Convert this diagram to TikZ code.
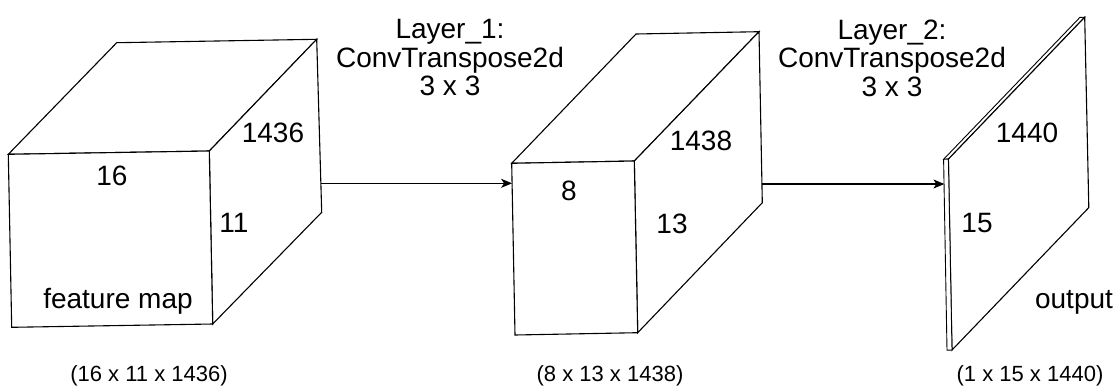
\documentclass[tikz,border=0pt]{standalone}
\usepackage{fontspec}
\setmainfont{Liberation Sans}
\usetikzlibrary{arrows.meta}
\tikzset{
  face/.style={draw=black, fill=white, line width=1.1pt, line join=miter},
  lbl/.style={inner sep=0pt, anchor=base, font=\fontsize{28}{30}\selectfont},
  dimlbl/.style={inner sep=0pt, anchor=base, font=\fontsize{22}{24}\selectfont},
  layerlbl/.style={inner sep=0pt, align=center, font=\fontsize{28}{28.5}\selectfont},
  conn/.style={draw=black, line width=1.1pt, -{Stealth[length=11pt,width=9pt,inset=3pt]}}
}
\begin{document}
\begin{tikzpicture}[x=1pt,y=-1pt]
\useasboundingbox (0,0) rectangle (1120,389);
% ---------- cube 1 ----------
\coordinate (c1ftl) at (8.3,154.3);
\coordinate (c1ftr) at (209.3,151);
\coordinate (c1fbr) at (212.7,324);
\coordinate (c1fbl) at (11.7,327.3);
\coordinate (c1btl) at (116.7,42.7);
\coordinate (c1btr) at (316.7,39.3);
\coordinate (c1bbr) at (321.7,212.3);
\draw[face] (c1ftl) -- (c1btl) -- (c1btr) -- (c1ftr) -- cycle;
\draw[face] (c1ftr) -- (c1btr) -- (c1bbr) -- (c1fbr) -- cycle;
\draw[face] (c1ftl) -- (c1ftr) -- (c1fbr) -- (c1fbl) -- cycle;
% ---------- cube 2 ----------
\coordinate (c2ftl) at (511.7,163.3);
\coordinate (c2ftr) at (634.3,161);
\coordinate (c2fbr) at (637.7,332.7);
\coordinate (c2fbl) at (515,335);
\coordinate (c2btl) at (636,34);
\coordinate (c2btr) at (759,31.7);
\coordinate (c2bbr) at (762.3,202.7);
\draw[face] (c2ftl) -- (c2btl) -- (c2btr) -- (c2ftr) -- cycle;
\draw[face] (c2ftr) -- (c2btr) -- (c2bbr) -- (c2fbr) -- cycle;
\draw[face] (c2ftl) -- (c2ftr) -- (c2fbr) -- (c2fbl) -- cycle;
% ---------- plate ----------
\coordinate (pftl) at (943.6,159.3);
\coordinate (pftr) at (948.4,159.1);
\coordinate (pfbr) at (952,350);
\coordinate (pfbl) at (947,350.2);
\coordinate (pbtl) at (1079.9,17.4);
\coordinate (pbtr) at (1084.7,17.2);
\coordinate (pbbr) at (1088.8,207.6);
\draw[face, line width=0.9pt] (pftl) -- (pbtl) -- (pbtr) -- (pftr) -- cycle;
\draw[face] (pftr) -- (pbtr) -- (pbbr) -- (pfbr) -- cycle;
\draw[face, line width=0.9pt] (pftl) -- (pftr) -- (pfbr) -- (pfbl) -- cycle;
% ---------- connectors ----------
\coordinate (a1s) at (320.9,183.3);
\coordinate (a1e) at (512.1,183.3);
\coordinate (a2s) at (761.9,184);
\coordinate (a2e) at (944.4,184);
\draw[conn] (a1s) -- (a1e);
\draw[conn] (a2s) -- (a2e);
% ---------- labels ----------
\node[lbl] (l16) at (112,185) {16};
\node[lbl] (l1436) at (273,142) {1436};
\node[lbl] (l11) at (234,232) {11};
\node[lbl] (lfm) at (118,308) {feature map};
\node[lbl] (l8) at (569,200) {8};
\node[lbl] (l1438) at (701,150) {1438};
\node[lbl] (l13) at (672,233) {13};
\node[lbl] (l1440) at (1027,142) {1440};
\node[lbl] (l15) at (977,232) {15};
\node[lbl] (lout) at (1074,308) {output};
\node[layerlbl] (layer1) at (450,58) {Layer\_1:\\ConvTranspose2d\\3 x 3};
\node[layerlbl] (layer2) at (892,58) {Layer\_2:\\ConvTranspose2d\\3 x 3};
\node[dimlbl] (d1) at (149,381) {(16 x 11 x 1436)};
\node[dimlbl] (d2) at (610,381) {(8 x 13 x 1438)};
\node[dimlbl] (d3) at (1030,381) {(1 x 15 x 1440)};
\end{tikzpicture}
\end{document}
